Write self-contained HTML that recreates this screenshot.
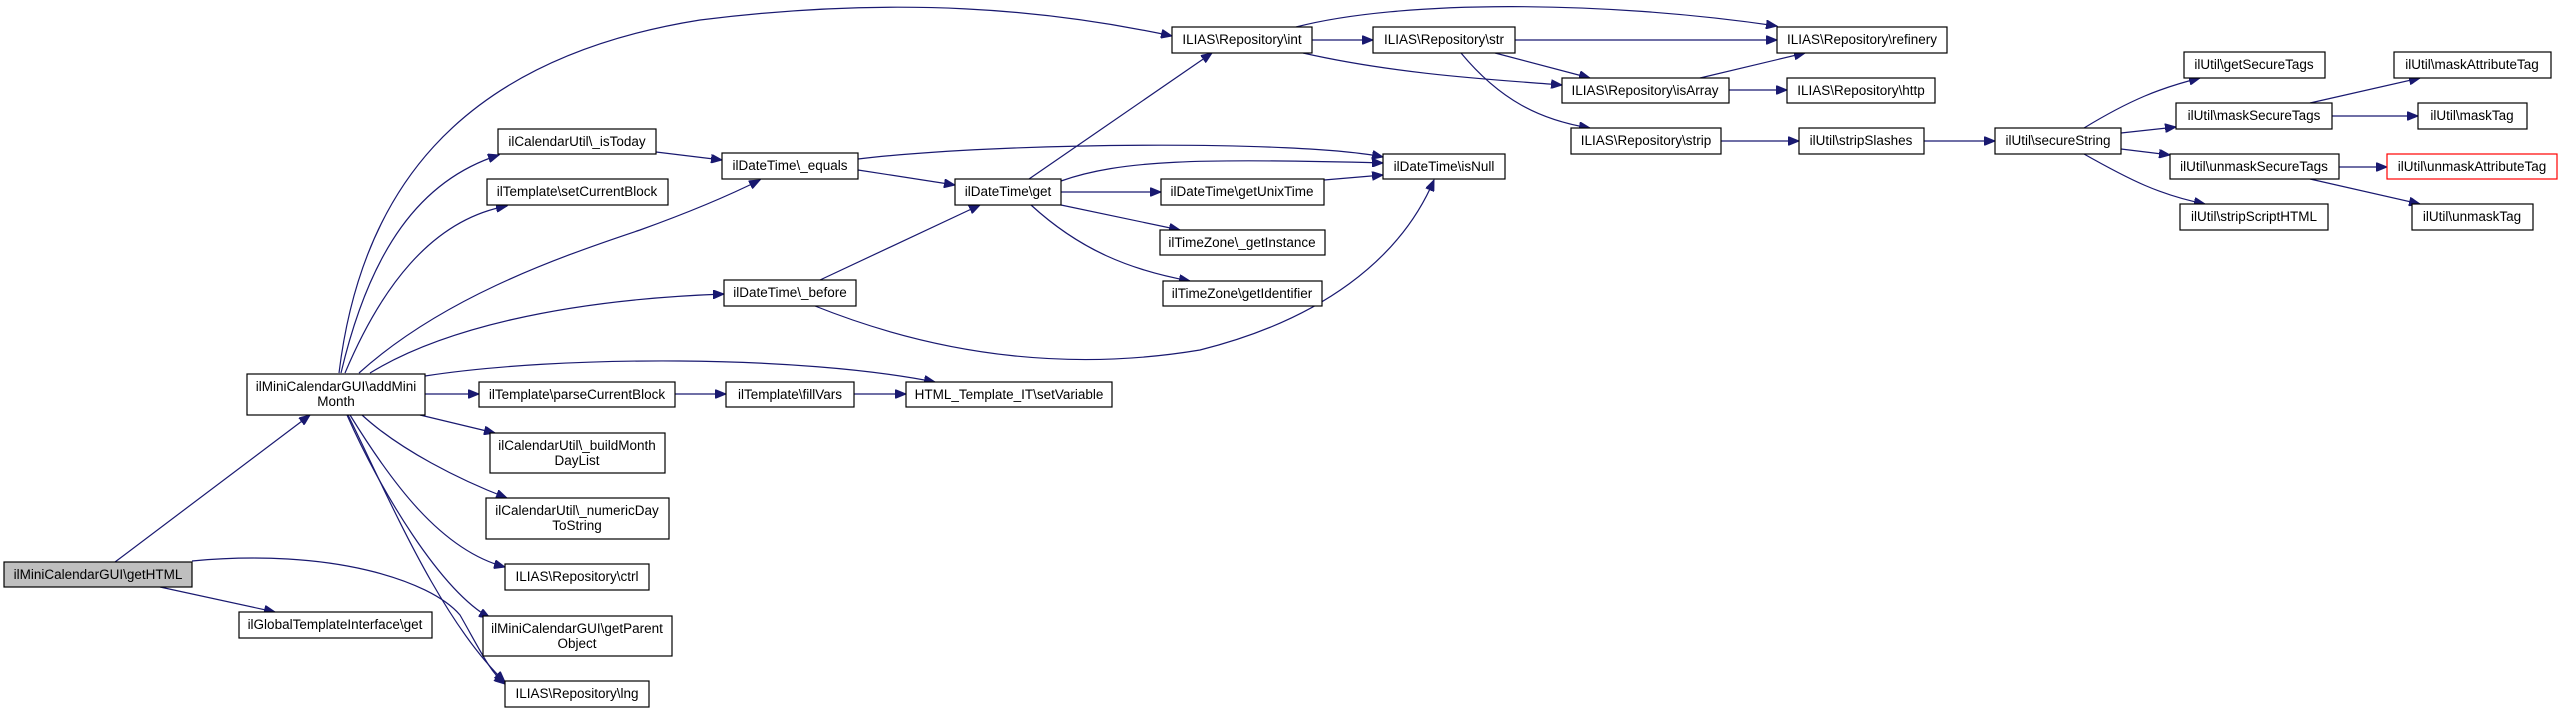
<!DOCTYPE html>
<html><head><meta charset="utf-8"><style>
html,body{margin:0;padding:0;background:#fff;}
svg{display:block;}
text{font-family:"Liberation Sans",Arial,sans-serif;font-size:13.5px;fill:#000;text-anchor:middle;}
.n{fill:#fff;stroke:#000;stroke-width:1.2;}
.e{fill:none;stroke:#191970;stroke-width:1.2;marker-end:url(#a);}
</style></head><body>
<svg width="2559" height="713" viewBox="0 0 2559 713" xmlns="http://www.w3.org/2000/svg">
<defs><marker id="a" markerUnits="userSpaceOnUse" markerWidth="12" markerHeight="9" refX="11" refY="4.5" orient="auto"><path d="M0,0 L11,4.5 L0,9 z" fill="#191970" stroke="#191970"/></marker></defs>

<!-- edges -->
<path class="e" d="M115,562 L310,415"/>
<path class="e" d="M160,587 L275,612"/>
<path class="e" d="M192,561 C330,548 430,580 460,615 C480,650 490,672 505,684"/>
<path class="e" d="M339,373 C360,200 450,60 700,20 C900,-5 1050,10 1172,36"/>
<path class="e" d="M341,373 C370,250 420,180 499,155"/>
<path class="e" d="M345,373 C380,290 430,220 507,206"/>
<path class="e" d="M359,373 C440,300 550,260 640,230 C690,212 730,195 760,180"/>
<path class="e" d="M370,373 C440,330 560,300 724,294"/>
<path class="e" d="M425,376 C560,355 800,355 935,382"/>
<path class="e" d="M425,394 L479,394"/>
<path class="e" d="M420,415 L495,433"/>
<path class="e" d="M362,415 C400,450 460,480 507,498"/>
<path class="e" d="M350,415 C390,480 440,550 505,567"/>
<path class="e" d="M347,415 C380,490 440,590 490,618"/>
<path class="e" d="M348,415 C390,500 440,620 505,682"/>
<path class="e" d="M656,152 L722,160"/>
<path class="e" d="M675,394 L726,394"/>
<path class="e" d="M854,394 L906,394"/>
<path class="e" d="M858,159 C1000,142 1300,140 1383,157"/>
<path class="e" d="M858,170 L955,185"/>
<path class="e" d="M820,280 L980,205"/>
<path class="e" d="M815,306 C950,360 1080,370 1200,350 C1320,320 1400,260 1434,180"/>
<path class="e" d="M1029,179 L1212,53"/>
<path class="e" d="M1061,181 C1120,160 1200,158 1383,163"/>
<path class="e" d="M1061,192 L1161,192"/>
<path class="e" d="M1324,180 L1383,175"/>
<path class="e" d="M1061,205 L1180,230"/>
<path class="e" d="M1031,205 C1080,250 1130,270 1190,281"/>
<path class="e" d="M1312,40 L1373,40"/>
<path class="e" d="M1296,27 C1400,0 1600,0 1777,26"/>
<path class="e" d="M1303,53 C1400,75 1500,80 1562,85"/>
<path class="e" d="M1515,40 L1777,40"/>
<path class="e" d="M1495,53 L1590,78"/>
<path class="e" d="M1461,53 C1500,100 1540,120 1590,128"/>
<path class="e" d="M1700,78 L1805,53"/>
<path class="e" d="M1729,90 L1787,90"/>
<path class="e" d="M1721,141 L1799,141"/>
<path class="e" d="M1924,141 L1995,141"/>
<path class="e" d="M2084,128 C2130,100 2160,88 2200,78"/>
<path class="e" d="M2121,133 L2176,127"/>
<path class="e" d="M2121,149 L2170,155"/>
<path class="e" d="M2084,154 C2130,180 2160,195 2205,204"/>
<path class="e" d="M2310,103 L2420,78"/>
<path class="e" d="M2332,116 L2418,116"/>
<path class="e" d="M2339,167 L2387,167"/>
<path class="e" d="M2310,179 L2420,204"/>

<!-- nodes -->
<rect x="4" y="562" width="188" height="25" fill="#bfbfbf" stroke="#000" stroke-width="1.2"/><text x="98" y="579">ilMiniCalendarGUI\getHTML</text>
<rect class="n" x="247" y="374" width="178" height="41"/><text x="336" y="391">ilMiniCalendarGUI\addMini</text><text x="336" y="406">Month</text>
<rect class="n" x="239" y="612" width="193" height="26"/><text x="335" y="629">ilGlobalTemplateInterface\get</text>
<rect class="n" x="498" y="129" width="158" height="25"/><text x="577" y="146">ilCalendarUtil\_isToday</text>
<rect class="n" x="487" y="179" width="181" height="26"/><text x="577" y="196">ilTemplate\setCurrentBlock</text>
<rect class="n" x="722" y="153" width="136" height="26"/><text x="790" y="170">ilDateTime\_equals</text>
<rect class="n" x="724" y="280" width="132" height="26"/><text x="790" y="297">ilDateTime\_before</text>
<rect class="n" x="479" y="382" width="196" height="25"/><text x="577" y="399">ilTemplate\parseCurrentBlock</text>
<rect class="n" x="726" y="382" width="128" height="25"/><text x="790" y="399">ilTemplate\fillVars</text>
<rect class="n" x="490" y="433" width="175" height="40"/><text x="577" y="450">ilCalendarUtil\_buildMonth</text><text x="577" y="465">DayList</text>
<rect class="n" x="486" y="498" width="183" height="41"/><text x="577" y="515">ilCalendarUtil\_numericDay</text><text x="577" y="530">ToString</text>
<rect class="n" x="505" y="564" width="144" height="26"/><text x="577" y="581">ILIAS\Repository\ctrl</text>
<rect class="n" x="483" y="616" width="189" height="40"/><text x="577" y="633">ilMiniCalendarGUI\getParent</text><text x="577" y="648">Object</text>
<rect class="n" x="505" y="681" width="144" height="26"/><text x="577" y="698">ILIAS\Repository\lng</text>
<rect class="n" x="1172" y="27" width="140" height="26"/><text x="1242" y="44">ILIAS\Repository\int</text>
<rect class="n" x="1373" y="27" width="142" height="26"/><text x="1444" y="44">ILIAS\Repository\str</text>
<rect class="n" x="1777" y="27" width="170" height="26"/><text x="1862" y="44">ILIAS\Repository\refinery</text>
<rect class="n" x="1562" y="78" width="167" height="25"/><text x="1645" y="95">ILIAS\Repository\isArray</text>
<rect class="n" x="1787" y="78" width="148" height="25"/><text x="1861" y="95">ILIAS\Repository\http</text>
<rect class="n" x="1571" y="128" width="150" height="26"/><text x="1646" y="145">ILIAS\Repository\strip</text>
<rect class="n" x="1799" y="128" width="125" height="26"/><text x="1861" y="145">ilUtil\stripSlashes</text>
<rect class="n" x="1383" y="154" width="122" height="25"/><text x="1444" y="171">ilDateTime\isNull</text>
<rect class="n" x="955" y="179" width="106" height="26"/><text x="1008" y="196">ilDateTime\get</text>
<rect class="n" x="1161" y="179" width="163" height="26"/><text x="1242" y="196">ilDateTime\getUnixTime</text>
<rect class="n" x="1160" y="230" width="165" height="25"/><text x="1242" y="247">ilTimeZone\_getInstance</text>
<rect class="n" x="1163" y="281" width="159" height="25"/><text x="1242" y="298">ilTimeZone\getIdentifier</text>
<rect class="n" x="906" y="382" width="206" height="25"/><text x="1009" y="399">HTML_Template_IT\setVariable</text>
<rect class="n" x="1995" y="128" width="126" height="26"/><text x="2058" y="145">ilUtil\secureString</text>
<rect class="n" x="2184" y="52" width="141" height="26"/><text x="2254" y="69">ilUtil\getSecureTags</text>
<rect class="n" x="2176" y="103" width="156" height="26"/><text x="2254" y="120">ilUtil\maskSecureTags</text>
<rect class="n" x="2170" y="154" width="169" height="25"/><text x="2254" y="171">ilUtil\unmaskSecureTags</text>
<rect class="n" x="2180" y="204" width="148" height="26"/><text x="2254" y="221">ilUtil\stripScriptHTML</text>
<rect class="n" x="2394" y="52" width="157" height="26"/><text x="2472" y="69">ilUtil\maskAttributeTag</text>
<rect class="n" x="2418" y="103" width="109" height="26"/><text x="2472" y="120">ilUtil\maskTag</text>
<rect x="2387" y="154" width="170" height="25" fill="#fff" stroke="#ff0000" stroke-width="1.2"/><text x="2472" y="171">ilUtil\unmaskAttributeTag</text>
<rect class="n" x="2412" y="204" width="121" height="26"/><text x="2472" y="221">ilUtil\unmaskTag</text>
</svg>
</body></html>
